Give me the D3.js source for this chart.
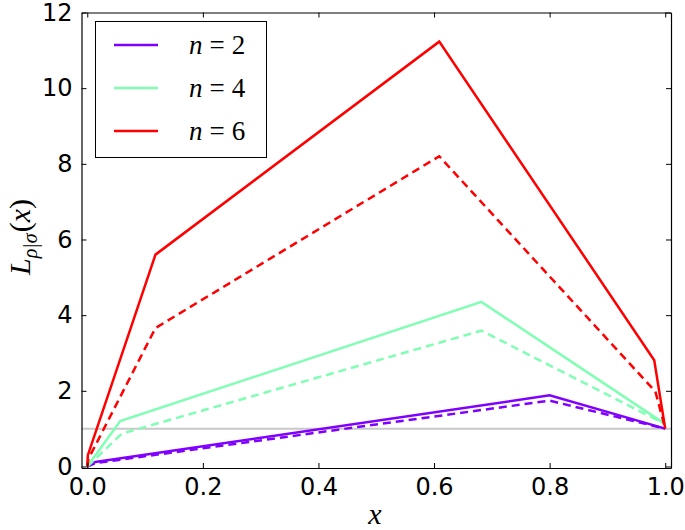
<!DOCTYPE html>
<html><head><meta charset="utf-8">
<script src="https://cdn.jsdelivr.net/npm/d3@7"></script>
<style>body{margin:0;background:#fff}</style>
</head><body>
<script>
// data
const series = [
  {name: "n = 2", color: "#8000ff",
   solid:  [[0,0],[0.014,0.12],[0.80,1.88],[1.0,1.0]],
   dashed: [[0,0],[0.014,0.09],[0.80,1.74],[1.0,1.0]]},
  {name: "n = 4", color: "#80ffb4",
   solid:  [[0,0],[0.057,1.2],[0.682,4.35],[1.0,1.12]],
   dashed: [[0,0],[0.06,0.87],[0.682,3.59],[1.0,1.12]]},
  {name: "n = 6", color: "#ff0000",
   solid:  [[0,0],[0.001,0.3],[0.118,5.6],[0.609,11.23],[0.981,2.81],[1.0,1.0]],
   dashed: [[0,0],[0.002,0.2],[0.118,3.66],[0.609,8.2],[0.983,1.98],[1.0,1.0]]}
];
const xTicks = [0.0,0.2,0.4,0.6,0.8,1.0];
const yTicks = [0,2,4,6,8,10,12];
const refLine = 1;

const W = 685, H = 530;
const svg = d3.select("body").append("svg").attr("width", W).attr("height", H);
const x = d3.scaleLinear().domain([-0.01, 1.01]).range([81.5, 671]);
const y = d3.scaleLinear().domain([-0.04, 12]).range([468, 12.5]);

const font = "'DejaVu Sans', sans-serif";
const serif = "'Liberation Serif', 'DejaVu Serif', serif";

// reference line
svg.append("line").attr("x1", x(-0.01)).attr("x2", x(1.01))
  .attr("y1", y(refLine)).attr("y2", y(refLine))
  .attr("stroke", "#c8c8c8").attr("stroke-width", 2);

const line = d3.line().x(d => x(d[0])).y(d => y(d[1]));
series.forEach(s => {
  svg.append("path").attr("d", line(s.dashed)).attr("fill", "none")
    .attr("stroke", s.color).attr("stroke-width", 2.5).attr("stroke-dasharray", "8,5");
  svg.append("path").attr("d", line(s.solid)).attr("fill", "none")
    .attr("stroke", s.color).attr("stroke-width", 2.5);
});

// axes with inward ticks
const fmtX = d3.format(".1f");
const axB = svg.append("g").attr("transform", `translate(0,${y(-0.04)})`)
  .call(d3.axisBottom(x).tickValues(xTicks).tickFormat(fmtX).tickSizeInner(-5).tickSizeOuter(0).tickPadding(10));
const axT = svg.append("g").attr("transform", `translate(0,${y(12)})`)
  .call(d3.axisTop(x).tickValues(xTicks).tickFormat("").tickSizeInner(-5).tickSizeOuter(0));
const axL = svg.append("g").attr("transform", `translate(${x(-0.01)},0)`)
  .call(d3.axisLeft(y).tickValues(yTicks).tickFormat(d3.format("d")).tickSizeInner(-5).tickSizeOuter(0).tickPadding(9));
const axR = svg.append("g").attr("transform", `translate(${x(1.01)},0)`)
  .call(d3.axisRight(y).tickValues(yTicks).tickFormat("").tickSizeInner(-5).tickSizeOuter(0));
[axB, axT, axL, axR].forEach(a => {
  a.select(".domain").attr("stroke", "#000").attr("stroke-width", 1.2);
  a.selectAll(".tick line").attr("stroke", "#000");
  a.selectAll("text").attr("font-family", font).attr("font-size", 24).attr("fill", "#000");
});
axB.selectAll("text").attr("dy", "0.71em");

// axis labels
svg.append("text").attr("x", 375).attr("y", 524).attr("text-anchor", "middle")
  .attr("font-family", serif).attr("font-style", "italic").attr("font-size", 30).text("x");
const yl = svg.append("text").attr("transform", "translate(30,237) rotate(-90)")
  .attr("text-anchor", "middle").attr("font-family", serif).attr("font-size", 30);
yl.append("tspan").attr("font-style", "italic").text("L");
yl.append("tspan").attr("font-style", "italic").attr("font-size", 20).attr("dy", 7).text("ρ|σ");
yl.append("tspan").attr("dy", -7).attr("dx", 1).text("(");
yl.append("tspan").attr("font-style", "italic").text("x");
yl.append("tspan").text(")");

// legend
const lg = svg.append("g");
lg.append("rect").attr("x", 95.5).attr("y", 21.5).attr("width", 171).attr("height", 136)
  .attr("fill", "#fff").attr("stroke", "#000").attr("stroke-width", 1);
series.forEach((s, i) => {
  const yy = 45 + i * 43;
  lg.append("line").attr("x1", 114).attr("x2", 158).attr("y1", yy).attr("y2", yy)
    .attr("stroke", s.color).attr("stroke-width", 2.5);
  const t = lg.append("text").attr("x", 189).attr("y", yy + 9)
    .attr("font-family", serif).attr("font-size", 27);
  const parts = s.name.split(" = ");
  t.append("tspan").attr("font-style", "italic").text(parts[0]);
  t.append("tspan").attr("dx", 7).text("=");
  t.append("tspan").attr("dx", 7).text(parts[1]);
});
</script>
</body></html>
